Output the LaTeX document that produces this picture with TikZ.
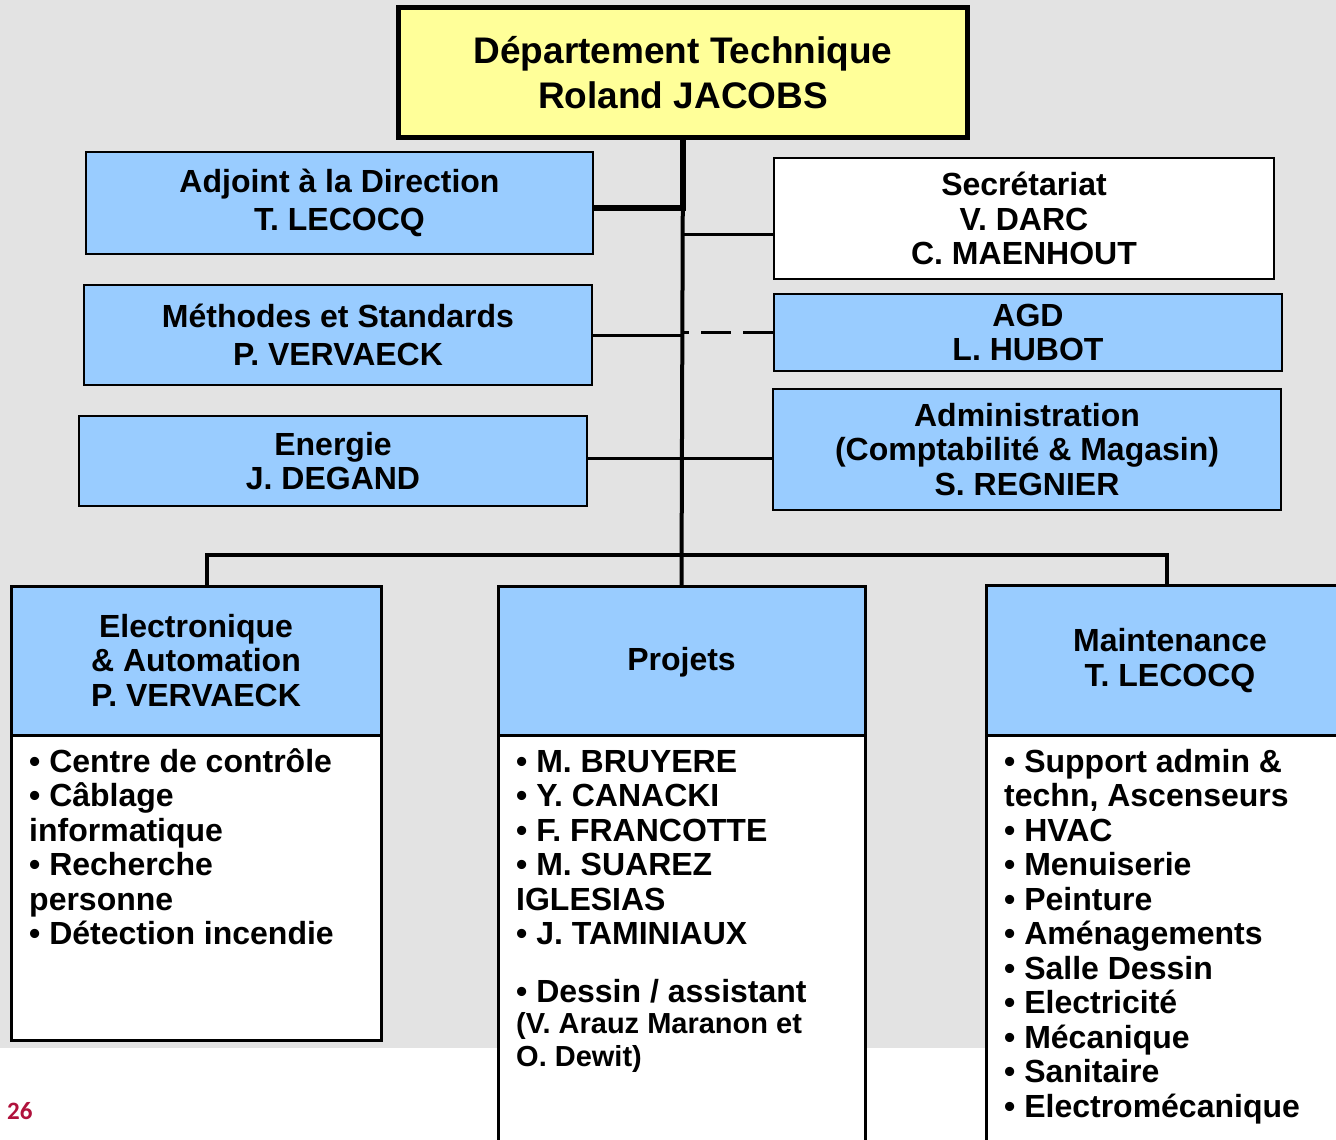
\documentclass[tikz,border=0pt]{standalone}
\usepackage{fontspec}
\setmainfont{Liberation Sans}
\newfontfamily\pagefont{Carlito}
\usepackage{tikz}
\usetikzlibrary{positioning}
\usepackage{xcolor}
\definecolor{orgblue}{HTML}{99CCFF}
\definecolor{orgyellow}{HTML}{FFFF99}
\definecolor{orggray}{HTML}{E3E3E3}
\definecolor{pagered}{HTML}{B0123C}

\begin{document}
\begin{tikzpicture}[x=1pt, y=-1pt,
    box/.style={rectangle, draw=black, fill=orgblue, line width=2.5pt, inner sep=0pt,
                align=center, font=\fontsize{32}{34.5}\selectfont\bfseries},
    headbox/.style={box, line width=3pt},
    listbox/.style={rectangle, draw=black, fill=white, line width=3pt, inner sep=0pt},
    list/.style={anchor=base west, inner sep=0pt, align=left,
                 font=\fontsize{32}{34.5}\selectfont\bfseries},
    link/.style={line width=3.5pt}
]
    \useasboundingbox (0,0) rectangle (1336,1140);
    \clip (0,0) rectangle (1336,1140);
    \fill[white] (0,0) rectangle (1336,1140);
    \fill[orggray] (0,0) rectangle (1336,1048);

    % direction
    \node[box, fill=orgyellow, line width=5pt, minimum width=569pt, minimum height=129pt,
          font=\fontsize{37}{45}\selectfont\bfseries] (dept) at (683,72.5)
          {Département Technique\\Roland JACOBS};

    % staff boxes
    \node[box, minimum width=507pt, minimum height=102pt] (adjoint) at (339.5,203)
          {Adjoint à la Direction\\[3.5pt]T. LECOCQ};
    \node[box, fill=white, minimum width=500pt, minimum height=121pt] (secr) at (1024,218.5)
          {Secrétariat\\V. DARC\\C. MAENHOUT};
    \node[box, minimum width=508pt, minimum height=100pt] (methodes) at (338,335)
          {Méthodes et Standards\\[3.5pt]P. VERVAECK};
    \node[box, minimum width=508pt, minimum height=77pt] (agd) at (1028,332.5)
          {AGD\\L. HUBOT};
    \node[box, minimum width=508pt, minimum height=90pt] (energie) at (333,461)
          {Energie\\J. DEGAND};
    \node[box, minimum width=508pt, minimum height=121pt] (admin) at (1027,449.5)
          {Administration\\(Comptabilité \& Magasin)\\S. REGNIER};

    % services
    \node[headbox, minimum width=370pt, minimum height=149pt] (elec) at (196,660.5)
          {Electronique\\ \& Automation\\P. VERVAECK};
    \node[listbox, minimum width=370pt, minimum height=305pt] (elecbody) at (196,887.5) {};
    \node[headbox, minimum width=367pt, minimum height=151pt] (proj) at (681.5,662) {Projets};
    \node[listbox, minimum width=367pt, minimum height=450pt] (projbody) at (681.5,960) {};
    \node[headbox, minimum width=368pt, minimum height=151pt] (maint) at (1170,660.5)
          {Maintenance\\T. LECOCQ};
    \node[listbox, minimum width=368pt, minimum height=450pt] (maintbody) at (1170,960) {};

    % lists (base = last line)
    \node[list] (eleclist) at (29,944.5)
          {• Centre de contrôle\\• Câblage\\informatique\\• Recherche\\personne\\• Détection incendie};
    \node[list] (projlist) at (516,1002)
          {• M. BRUYERE\\• Y. CANACKI\\• F. FRANCOTTE\\• M. SUAREZ\\IGLESIAS\\• J. TAMINIAUX\\[23pt]• Dessin / assistant};
    \node[list, font=\fontsize{29}{32.3}\selectfont\bfseries] (projnote) at (516,1066)
          {(V. Arauz Maranon et\\O. Dewit)};
    \node[list] (maintlist) at (1004,1117)
          {• Support admin \&\\techn, Ascenseurs\\• HVAC\\• Menuiserie\\• Peinture\\• Aménagements\\• Salle Dessin\\• Electricité\\• Mécanique\\• Sanitaire\\• Electromécanique};

    \node[anchor=base west, inner sep=0pt, text=pagered, font=\fontsize{25}{28}\pagefont\bfseries]
          (pagenum) at (7,1119) {26};

    % connectors
    \coordinate (tsecr) at (683,234);
    \coordinate (tener) at (683,458);
    \coordinate (bar) at (683,555);
    \draw[link, line width=4pt] (dept.south) -- (proj.north);
    \draw[line width=6.5pt] (dept.south) |- ([yshift=-5pt]adjoint.east);
    \draw[link, line width=3pt] (tsecr) -- (tsecr -| secr.west);
    \draw[link, line width=3pt] (methodes.east) -- (methodes.east -| dept.south);
    \draw[link, line width=3pt, dash pattern=on 30pt off 12pt] (agd.west) -- (agd.west -| dept.south);
    \draw[link, line width=3pt] (tener -| energie.east) -- (tener -| admin.west);
    \draw[link] ([xshift=11pt]elec.north) |- (bar) -| ([xshift=-3pt]maint.north);
\end{tikzpicture}
\end{document}
